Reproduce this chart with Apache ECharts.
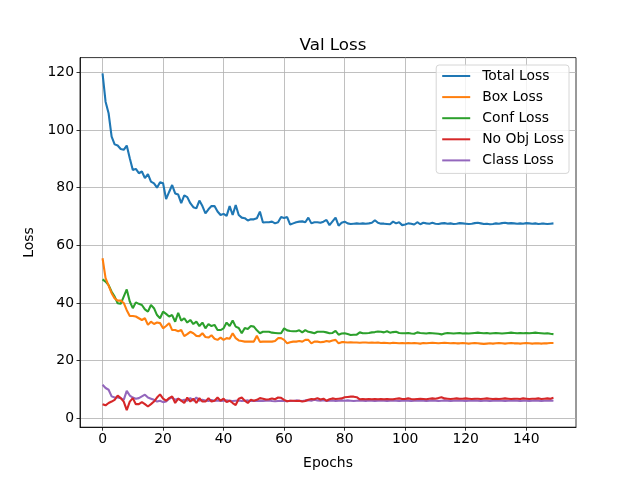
<!DOCTYPE html>
<html>
<head>
<meta charset="utf-8">
<title>Val Loss</title>
<script src="https://cdn.jsdelivr.net/npm/echarts@6.0.0/dist/echarts.min.js"></script>
<style>
  html, body { margin: 0; padding: 0; background: #fff; }
  #chart { width: 640px; height: 480px; }
</style>
</head>
<body>
<div id="chart"></div>
<script>
// 数据
var epochs = Array.from({ length: 150 }, function (_, i) { return i })
var xTicks = [0, 20, 40, 60, 80, 100, 120, 140]
var yTicks = [0, 20, 40, 60, 80, 100, 120]

var totalLoss = [
  119.6, 109.8, 105.8, 97.7, 95, 94.6, 93.4, 93.1, 94.6, 90.2,
  86.1, 86.5, 85, 85.6, 83.3, 84.7, 82.1, 81.5, 80, 81.9,
  81.5, 76, 78.5, 80.9, 78, 77.6, 74.6, 77.3, 76.7, 74.6,
  73.2, 72.8, 75.5, 73.6, 71.1, 72.5, 73.6, 73.6, 71.7, 70.5,
  70.9, 70.2, 73.6, 70.5, 74, 70.5, 69.6, 69.4, 68.6, 69,
  69, 69.4, 71.7, 67.9, 68, 68, 68.2, 67.6, 68, 69.8,
  69.5, 69.8, 67.2, 67.6, 68, 68.2, 68.3, 68, 69.6, 67.6,
  68, 68, 67.8, 68.2, 68.8, 67, 68.3, 69.6, 66.8, 67.8,
  68.2, 67.6, 67.4, 67.5, 67.6, 67.5, 67.6, 67.5, 67.6, 67.8,
  68.7, 67.8, 67.5, 67.5, 67.4, 67.3, 68.2, 67.6, 68, 67,
  67.2, 67.6, 67.5, 67.2, 68, 67.3, 67.8, 67.6, 67.5, 67.8,
  67.5, 67.4, 67.6, 67.7, 67.5, 67.6, 67.4, 67.5, 67.7, 67.6,
  67.5, 67.4, 67.5, 67.7, 67.8, 67.6, 67.4, 67.5, 67.3, 67.4,
  67.6, 67.5, 67.7, 67.8, 67.6, 67.7, 67.6, 67.5, 67.6, 67.5,
  67.7, 67.6, 67.5, 67.6, 67.4, 67.5, 67.5, 67.4, 67.5, 67.6
]

var boxLoss = [
  55.5, 48.6, 46, 43.4, 41.6, 40.8, 40.8, 40, 37.5, 35.5,
  35.5, 35.3, 34.7, 34.1, 34.7, 32.4, 33.5, 32.7, 33.2, 33,
  31.2, 32, 33, 30.6, 30.6, 30.2, 30.6, 28.5, 29.2, 30,
  29.5, 28.6, 28.5, 29.5, 28.2, 28, 28.8, 27.6, 27.2, 28,
  27.2, 27.8, 27.6, 29.5, 27.8, 27, 26.8, 26.6, 26.6, 26.6,
  26.6, 28.6, 26.5, 26.6, 26.6, 26.6, 26.6, 26.8, 27.8, 27.8,
  27.2, 26, 26.4, 26.6, 26.6, 26.8, 26.6, 27.2, 27.2, 26,
  26.6, 26.6, 26.4, 26.5, 26.8, 26.6, 27, 27.2, 26, 26.4,
  26.4, 26.3, 26.4, 26.3, 26.3, 26.2, 26.3, 26.3, 26.2, 26.3,
  26.2, 26.3, 26.1, 26.2, 26.1, 26, 26.2, 26.1, 26, 26.1,
  26.0, 26.1, 26.0, 26.1, 26.0, 25.9, 26.1, 26.0, 26.1, 26.2,
  26.1, 26.0, 26.1, 26.2, 26.1, 26.0, 26.1, 26.0, 26.0, 26.1,
  26.0, 25.9, 26.0, 26.1, 26.0, 25.9, 25.8, 25.9, 26.0, 25.9,
  26.0, 26.1, 26.0, 25.9, 26.0, 26.1, 26.0, 26.0, 25.9, 26.0,
  26.1, 26.0, 25.9, 26.0, 26.0, 25.9, 26.0, 26.0, 26.1, 26.1
]

var confLoss = [
  48.2, 47.4, 46.2, 43.9, 42.2, 39.9, 39.7, 42.2, 44.7, 40.5,
  38.2, 40.2, 39.7, 39.3, 37.8, 37, 39.3, 38.2, 35.8, 34.7,
  37, 36.2, 35.3, 35.8, 33.5, 36.6, 33.9, 34.7, 33.2, 34.1,
  32.7, 33.5, 32, 33.2, 31.2, 32.7, 32, 32.4, 30.6, 30.6,
  31.2, 33.2, 32, 33.9, 31.8, 31.3, 29.5, 31.3, 31, 32,
  31.8, 30.5, 29.5, 30, 30, 30, 29.7, 29.6, 29.5, 29.5,
  31.2, 30.5, 30.3, 30.2, 30.2, 30.5, 29.8, 30.6, 30, 29.8,
  29.5, 30, 30, 30, 29.8, 29.5, 29.6, 30.3, 29, 29.4,
  29.5, 29.2, 28.9, 29, 29, 29.8, 29.5, 29.5, 29.6, 29.8,
  29.9, 30.1, 30, 29.8, 30.2, 29.7, 29.9, 30, 29.6, 29.5,
  29.5, 29.6, 29.4, 29.3, 29.8, 29.6, 29.5, 29.4, 29.6, 29.5,
  29.4, 29.3, 29.1, 29.4, 29.6, 29.5, 29.4, 29.5, 29.6, 29.4,
  29.5, 29.4, 29.5, 29.6, 29.7, 29.6, 29.5, 29.6, 29.4, 29.5,
  29.6, 29.5, 29.4, 29.5, 29.6, 29.7, 29.6, 29.5, 29.6, 29.5,
  29.6, 29.5, 29.6, 29.7, 29.6, 29.5, 29.4, 29.5, 29.3, 29.2
]

var noObjLoss = [
  4.9, 4.5, 5.3, 5.8, 6.4, 7.9, 7, 5.8, 2.8, 5.8,
  7, 4.9, 4.9, 5.6, 4.9, 4.1, 4.9, 5.8, 7.2, 8.3,
  6.8, 6.1, 7, 7.6, 5.3, 6.8, 6.1, 5.3, 7.2, 5.8,
  6.8, 5.3, 7, 5.8, 5.8, 7, 5.8, 6.1, 7.2, 6.1,
  6.8, 5.6, 6.1, 5.3, 4.6, 6.8, 7.2, 6.1, 5.3, 6.4,
  6.1, 6.4, 7, 6.8, 6.5, 6.6, 6.9, 6.6, 7.2, 7.1,
  6.4, 5.9, 6.1, 6.1, 6.0, 6.1, 5.8, 6.0, 6.4, 6.7,
  6.6, 7.0, 6.5, 6.8, 6.1, 6.6, 6.9, 6.7, 6.8, 6.9,
  7.3, 7.4, 7.5, 7.5, 7.3, 6.6, 6.7, 6.6, 6.7, 6.6,
  6.7, 6.6, 6.7, 6.6, 6.7, 6.6, 6.6, 6.8, 6.9, 6.7,
  6.7, 6.9, 6.7, 6.6, 6.7, 6.8, 6.7, 6.6, 6.8, 6.9,
  6.8, 7.0, 7.3, 6.9, 6.8, 6.7, 6.8, 6.9, 6.8, 6.8,
  6.9, 6.8, 6.7, 6.8, 6.8, 6.7, 6.8, 6.9, 6.8, 6.7,
  6.8, 6.7, 6.8, 6.9, 6.8, 6.7, 6.8, 6.8, 6.7, 6.9,
  6.8, 6.7, 6.8, 6.8, 6.9, 6.7, 6.8, 6.9, 6.8, 7.1
]

var classLoss = [
  11.6, 10.5, 9.9, 7.6, 7.2, 7.2, 7, 6.4, 9.5, 7.9,
  7.2, 6.8, 7, 7.6, 8.2, 7.2, 6.8, 6.4, 5.8, 6.1,
  5.6, 5.8, 6.8, 7.2, 6.4, 6.8, 6.1, 6.4, 6.1, 7,
  6.1, 7.2, 6.1, 6.4, 6.2, 6.0, 6.3, 6.1, 6.2, 6.0,
  6.1, 6.2, 6.1, 6.0, 6.1, 6.2, 6.0, 6.1, 6.2, 6.0,
  6.1, 6.0, 6.1, 6.0, 6.1, 6.2, 6.0, 5.9, 6.0, 6.1,
  6.0, 5.9, 6.1, 6.0, 6.2, 6.1, 6.0, 6.2, 6.3, 6.1,
  6.4, 6.2, 6.1, 6.3, 6.0, 6.1, 6.2, 6.0, 6.1, 6.2,
  6.1, 6.2, 6.1, 6.0, 6.1, 6.2, 6.1, 6.0, 6.2, 6.1,
  6.0, 6.1, 6.2, 6.1, 6.0, 6.1, 6.2, 6.1, 6.0, 6.1,
  6.2, 6.1, 6.0, 6.1, 6.2, 6.1, 6.1, 6.0, 6.1, 6.2,
  6.1, 6.0, 6.1, 6.2, 6.1, 6.0, 6.1, 6.1, 6.2, 6.1,
  6.0, 6.1, 6.1, 6.2, 6.1, 6.0, 6.1, 6.1, 6.0, 6.1,
  6.1, 6.2, 6.1, 6.0, 6.1, 6.1, 6.2, 6.1, 6.0, 6.1,
  6.1, 6.0, 6.1, 6.2, 6.1, 6.0, 6.1, 6.1, 6.2, 6.1
]

var seriesNames = ['Total Loss', 'Box Loss', 'Conf Loss', 'No Obj Loss', 'Class Loss']
var seriesData = [totalLoss, boxLoss, confLoss, noObjLoss, classLoss]
var colors = ['#1f77b4', '#ff7f0e', '#2ca02c', '#d62728', '#9467bd']

var fontFamily = 'DejaVu Sans'

function pairs(values) {
  return values.map(function (v, i) { return [epochs[i], v] })
}

var series = seriesNames.map(function (name, k) {
  return {
    name: name,
    type: 'line',
    data: pairs(seriesData[k]),
    showSymbol: false,
    symbol: 'none',
    lineStyle: { width: 2.1, color: colors[k] },
    itemStyle: { color: colors[k] },
    z: 10 - k
  }
})

var option = {
  animation: false,
  backgroundColor: '#fff',
  textStyle: { fontFamily: fontFamily },
  title: {
    text: 'Val Loss',
    left: 328,
    textAlign: 'center',
    top: 32,
    textStyle: { fontFamily: fontFamily, fontSize: 16.7, fontWeight: 'normal', color: '#000' }
  },
  legend: {
    orient: 'vertical',
    right: 71,
    top: 65,
    icon: 'rect',
    itemWidth: 28,
    itemHeight: 2,
    itemGap: 7.1,
    padding: [4, 5, 6, 6],
    backgroundColor: 'rgba(255,255,255,0.8)',
    borderColor: '#d6d6d6',
    borderWidth: 1,
    borderRadius: 3,
    textStyle: { fontFamily: fontFamily, fontSize: 13.9, color: '#000', padding: [0, 0, 0, 7] },
    data: seriesNames
  },
  grid: {
    left: 80,
    right: 64,
    top: 57.6,
    bottom: 52.8,
    show: true,
    borderColor: '#000',
    borderWidth: 0.8,
    containLabel: false
  },
  xAxis: {
    type: 'value',
    min: -7.45,
    max: 156.45,
    name: 'Epochs',
    nameLocation: 'middle',
    nameGap: 29,
    nameTextStyle: { fontFamily: fontFamily, fontSize: 13.9, color: '#000' },
    axisLine: { show: true, onZero: false, lineStyle: { color: '#000', width: 0.8 } },
    axisTick: { show: true, length: 3.5, customValues: xTicks, lineStyle: { color: '#000', width: 0.8 } },
    axisLabel: { customValues: xTicks, margin: 5, color: '#000', fontFamily: fontFamily, fontSize: 13.9 },
    splitLine: { show: true, lineStyle: { color: '#b0b0b0', width: 0.8 } }
  },
  yAxis: {
    type: 'value',
    min: -3.09,
    max: 125.1,
    name: 'Loss',
    nameLocation: 'middle',
    nameGap: 36,
    nameTextStyle: { fontFamily: fontFamily, fontSize: 13.9, color: '#000' },
    axisLine: { show: true, onZero: false, lineStyle: { color: '#000', width: 0.8 } },
    axisTick: { show: true, length: 3.5, customValues: yTicks, lineStyle: { color: '#000', width: 0.8 } },
    axisLabel: { customValues: yTicks, margin: 6, color: '#000', fontFamily: fontFamily, fontSize: 13.9 },
    splitLine: { show: true, lineStyle: { color: '#b0b0b0', width: 0.8 } }
  },
  series: series
}

var myChart = echarts.init(document.getElementById('chart'), null, { renderer: 'canvas' })
myChart.setOption(option)
window.addEventListener('resize', function () {
  myChart.resize()
})
</script>
</body>
</html>
